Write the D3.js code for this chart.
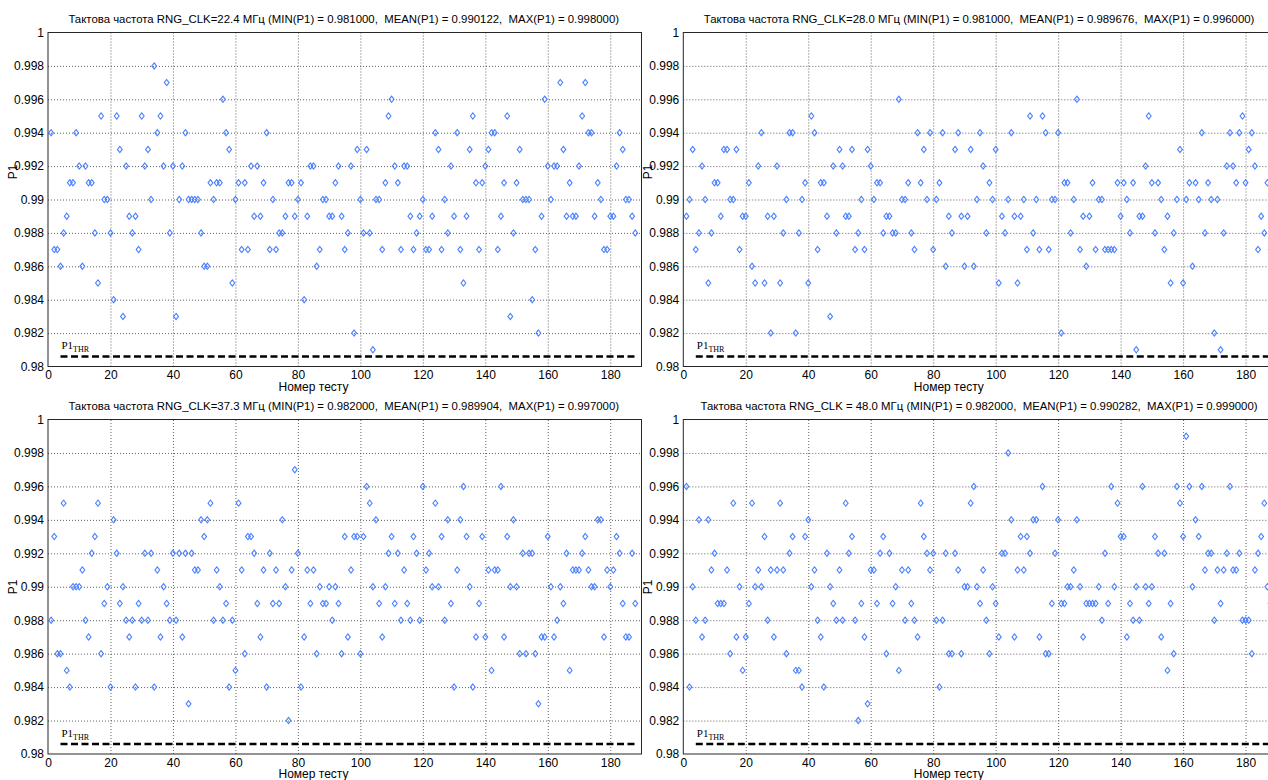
<!DOCTYPE html>
<html>
<head>
<meta charset="utf-8">
<script src="https://cdn.jsdelivr.net/npm/d3@7"></script>
<style>
  html, body { margin: 0; padding: 0; background: #fff; }
  svg { display: block; }
  text { font-family: "Liberation Sans", Arial, sans-serif; fill: #000; }
</style>
</head>
<body>
<svg id="chart" width="1268" height="780"></svg>
<script>
// ---------------- data ----------------
const tests = d3.range(1, 189); // test numbers 1..188

const p1_clk22_4 = [
0.994,0.987,0.987,0.986,0.988,0.989,0.991,0.991,0.994,0.992,
0.986,0.992,0.991,0.991,0.988,0.985,0.995,0.990,0.990,0.988,
0.984,0.995,0.993,0.983,0.992,0.989,0.988,0.989,0.987,0.995,
0.992,0.993,0.990,0.998,0.994,0.995,0.992,0.997,0.988,0.992,
0.983,0.990,0.992,0.994,0.990,0.990,0.990,0.990,0.988,0.986,
0.986,0.991,0.990,0.991,0.991,0.996,0.994,0.993,0.985,0.990,
0.991,0.987,0.991,0.987,0.992,0.989,0.992,0.989,0.991,0.994,
0.987,0.990,0.987,0.988,0.988,0.989,0.991,0.991,0.989,0.990,
0.991,0.984,0.989,0.992,0.992,0.986,0.987,0.990,0.990,0.989,
0.989,0.991,0.992,0.989,0.987,0.988,0.992,0.982,0.993,0.990,
0.988,0.993,0.988,0.981,0.990,0.990,0.987,0.991,0.995,0.996,
0.992,0.991,0.987,0.992,0.992,0.989,0.987,0.988,0.989,0.990,
0.987,0.987,0.989,0.994,0.993,0.987,0.990,0.988,0.992,0.989,
0.994,0.987,0.985,0.989,0.993,0.995,0.991,0.987,0.991,0.992,
0.993,0.994,0.994,0.987,0.989,0.991,0.995,0.983,0.988,0.991,
0.993,0.990,0.990,0.990,0.984,0.987,0.982,0.989,0.996,0.992,
0.990,0.992,0.992,0.997,0.993,0.989,0.991,0.989,0.989,0.992,
0.995,0.997,0.994,0.994,0.989,0.991,0.990,0.987,0.987,0.989,
0.989,0.992,0.994,0.993,0.990,0.990,0.989,0.988];

const p1_clk28_0 = [
0.989,0.990,0.993,0.987,0.988,0.992,0.990,0.985,0.988,0.991,
0.991,0.989,0.993,0.993,0.990,0.990,0.993,0.987,0.989,0.989,
0.991,0.986,0.985,0.992,0.994,0.985,0.989,0.982,0.989,0.992,
0.985,0.988,0.990,0.994,0.994,0.982,0.988,0.990,0.991,0.985,
0.995,0.994,0.987,0.991,0.991,0.989,0.983,0.992,0.988,0.993,
0.992,0.989,0.989,0.993,0.987,0.988,0.990,0.987,0.993,0.992,
0.990,0.991,0.991,0.988,0.989,0.989,0.988,0.988,0.996,0.990,
0.990,0.991,0.988,0.987,0.994,0.991,0.993,0.990,0.994,0.987,
0.990,0.991,0.994,0.986,0.989,0.988,0.993,0.994,0.989,0.986,
0.989,0.993,0.986,0.990,0.994,0.992,0.988,0.991,0.990,0.993,
0.985,0.989,0.988,0.990,0.994,0.989,0.985,0.989,0.990,0.987,
0.995,0.988,0.990,0.987,0.995,0.994,0.987,0.990,0.990,0.994,
0.982,0.991,0.991,0.988,0.990,0.996,0.987,0.989,0.986,0.989,
0.991,0.987,0.990,0.990,0.987,0.987,0.987,0.987,0.991,0.989,
0.991,0.990,0.988,0.991,0.981,0.989,0.989,0.992,0.995,0.991,
0.988,0.991,0.990,0.987,0.989,0.985,0.988,0.990,0.993,0.985,
0.990,0.991,0.986,0.991,0.990,0.994,0.988,0.991,0.990,0.982,
0.990,0.981,0.988,0.992,0.994,0.992,0.991,0.994,0.995,0.991,
0.993,0.994,0.992,0.987,0.989,0.988,0.991,0.987];

const p1_clk37_3 = [
0.988,0.993,0.986,0.986,0.995,0.985,0.984,0.990,0.990,0.990,
0.991,0.988,0.987,0.992,0.993,0.995,0.986,0.989,0.990,0.984,
0.994,0.992,0.989,0.990,0.988,0.987,0.988,0.984,0.989,0.988,
0.992,0.988,0.992,0.984,0.991,0.987,0.990,0.989,0.988,0.992,
0.988,0.992,0.987,0.992,0.983,0.992,0.991,0.991,0.994,0.993,
0.994,0.995,0.988,0.991,0.990,0.988,0.989,0.984,0.988,0.985,
0.995,0.991,0.986,0.993,0.993,0.992,0.989,0.987,0.991,0.984,
0.992,0.989,0.991,0.989,0.994,0.990,0.982,0.991,0.997,0.992,
0.984,0.987,0.991,0.989,0.991,0.986,0.990,0.989,0.989,0.990,
0.988,0.990,0.989,0.986,0.993,0.987,0.991,0.993,0.993,0.986,
0.993,0.996,0.995,0.990,0.994,0.989,0.987,0.990,0.992,0.993,
0.989,0.992,0.988,0.991,0.989,0.988,0.993,0.992,0.988,0.996,
0.991,0.992,0.990,0.995,0.990,0.993,0.988,0.994,0.989,0.984,
0.991,0.994,0.996,0.993,0.990,0.984,0.987,0.989,0.993,0.987,
0.991,0.985,0.991,0.991,0.996,0.987,0.993,0.990,0.994,0.990,
0.986,0.992,0.986,0.992,0.992,0.986,0.983,0.987,0.987,0.993,
0.990,0.987,0.988,0.990,0.989,0.992,0.985,0.991,0.991,0.991,
0.992,0.993,0.991,0.990,0.990,0.994,0.994,0.987,0.991,0.990,
0.991,0.993,0.992,0.989,0.987,0.987,0.992,0.989];

const p1_clk48_0 = [
0.996,0.984,0.990,0.988,0.994,0.987,0.988,0.994,0.991,0.992,
0.989,0.989,0.989,0.991,0.986,0.995,0.987,0.990,0.985,0.987,
0.989,0.995,0.990,0.991,0.990,0.993,0.988,0.991,0.987,0.991,
0.995,0.991,0.986,0.992,0.993,0.985,0.985,0.984,0.993,0.994,
0.990,0.991,0.988,0.987,0.984,0.992,0.990,0.989,0.988,0.991,
0.988,0.995,0.992,0.993,0.988,0.982,0.989,0.987,0.983,0.991,
0.991,0.989,0.992,0.993,0.986,0.992,0.989,0.990,0.985,0.991,
0.988,0.991,0.989,0.988,0.987,0.995,0.993,0.992,0.991,0.992,
0.988,0.984,0.988,0.992,0.986,0.986,0.992,0.991,0.986,0.990,
0.990,0.995,0.996,0.990,0.989,0.991,0.988,0.986,0.990,0.989,
0.987,0.992,0.992,0.998,0.994,0.987,0.991,0.993,0.991,0.993,
0.992,0.994,0.994,0.987,0.996,0.986,0.986,0.989,0.992,0.994,
0.989,0.989,0.990,0.990,0.991,0.994,0.990,0.987,0.989,0.989,
0.989,0.989,0.990,0.988,0.992,0.989,0.996,0.990,0.995,0.993,
0.993,0.987,0.989,0.988,0.990,0.988,0.996,0.990,0.989,0.990,
0.993,0.992,0.987,0.992,0.985,0.989,0.986,0.996,0.995,0.993,
0.999,0.996,0.990,0.994,0.993,0.996,0.991,0.992,0.992,0.988,
0.991,0.989,0.991,0.992,0.996,0.991,0.991,0.992,0.988,0.988,
0.988,0.986,0.991,0.992,0.993,0.995,0.990,0.989];

const titles = [
  "Тактова частота RNG_CLK=22.4 МГц (MIN(P1) = 0.981000,  MEAN(P1) = 0.990122,  MAX(P1) = 0.998000)",
  "Тактова частота RNG_CLK=28.0 МГц (MIN(P1) = 0.981000,  MEAN(P1) = 0.989676,  MAX(P1) = 0.996000)",
  "Тактова частота RNG_CLK=37.3 МГц (MIN(P1) = 0.982000,  MEAN(P1) = 0.989904,  MAX(P1) = 0.997000)",
  "Тактова частота RNG_CLK = 48.0 МГц (MIN(P1) = 0.982000,  MEAN(P1) = 0.990282,  MAX(P1) = 0.999000)"
];
const series = [p1_clk22_4, p1_clk28_0, p1_clk37_3, p1_clk48_0];

const xTicks = [0, 20, 40, 60, 80, 100, 120, 140, 160, 180];
const yTicks = [0.98, 0.982, 0.984, 0.986, 0.988, 0.99, 0.992, 0.994, 0.996, 0.998, 1];
const yTickLabels = ["0.98", "0.982", "0.984", "0.986", "0.988", "0.99", "0.992", "0.994", "0.996", "0.998", "1"];
const xDomain = [0, 190];
const yDomain = [0.98, 1];
const threshold = [0.9806];
const thresholdSpan = [4, 188];
const xLabel = "Номер тесту";
const yLabel = "P1";

// ---------------- layout ----------------
const panels = [
  { x0: 48,    x1: 641.5,  y0: 32.5,  y1: 366.5, yLabelY: 172 },
  { x0: 683.3, x1: 1276.8, y0: 32.5,  y1: 366.5, yLabelY: 172 },
  { x0: 48,    x1: 641.5,  y0: 419.5, y1: 754,   yLabelY: 587 },
  { x0: 683.3, x1: 1276.8, y0: 419.5, y1: 754,   yLabelY: 587 }
];

const svg = d3.select("#chart");
svg.append("rect").attr("width", 1268).attr("height", 780).attr("fill", "#fff");

panels.forEach((p, i) => {
  const x = d3.scaleLinear().domain(xDomain).range([p.x0, p.x1]);
  const y = d3.scaleLinear().domain(yDomain).range([p.y1, p.y0]);
  const g = svg.append("g");
  const h = p.y1 - p.y0, w = p.x1 - p.x0;

  const clipId = "clip" + i;
  svg.append("clipPath").attr("id", clipId)
    .append("rect").attr("x", p.x0).attr("y", p.y0).attr("width", w).attr("height", h);

  // grid (dotted)
  const gx = g.append("g").attr("transform", `translate(0,${p.y1})`)
    .call(d3.axisBottom(x).tickValues(xTicks.filter(v => v > 0)).tickSize(-h).tickFormat(""));
  gx.select(".domain").remove();
  gx.selectAll("line").attr("stroke", "#3a3a3a").attr("stroke-width", 0.8).attr("stroke-dasharray", "1,2");
  const gy = g.append("g").attr("transform", `translate(${p.x0},0)`)
    .call(d3.axisLeft(y).tickValues(yTicks.filter(v => v > 0.98 && v < 1)).tickSize(-w).tickFormat(""));
  gy.select(".domain").remove();
  gy.selectAll("line").attr("stroke", "#3a3a3a").attr("stroke-width", 0.8).attr("stroke-dasharray", "1,2");

  // tick labels
  const ax = g.append("g").attr("transform", `translate(0,${p.y1})`)
    .call(d3.axisBottom(x).tickValues(xTicks).tickSize(0).tickPadding(4).tickFormat(d3.format("d")));
  ax.select(".domain").remove();
  ax.selectAll("text").style("font-size", "12px").attr("fill", "#000");
  const ay = g.append("g").attr("transform", `translate(${p.x0},0)`)
    .call(d3.axisLeft(y).tickValues(yTicks).tickSize(0).tickPadding(4)
      .tickFormat((d, k) => yTickLabels[k]));
  ay.select(".domain").remove();
  ay.selectAll("text").style("font-size", "12px").attr("fill", "#000");

  // box
  g.append("rect").attr("x", p.x0).attr("y", p.y0).attr("width", w).attr("height", h)
    .attr("fill", "none").attr("stroke", "#262626").attr("stroke-width", 1);

  const plot = g.append("g").attr("clip-path", `url(#${clipId})`);

  // threshold line
  plot.append("line")
    .attr("x1", x(thresholdSpan[0])).attr("x2", x(thresholdSpan[1]))
    .attr("y1", y(threshold[0])).attr("y2", y(threshold[0]))
    .attr("stroke", "#000").attr("stroke-width", 2.4).attr("stroke-dasharray", "7,3.5");

  // threshold label
  const tl = g.append("text")
    .attr("x", x(thresholdSpan[0]) + 1).attr("y", y(threshold[0]) - 7)
    .style("font-family", "'Liberation Serif', 'Times New Roman', serif").style("font-size", "11px");
  tl.append("tspan").text("P1");
  tl.append("tspan").attr("dy", 3).style("font-size", "8px").text("THR");

  // points
  plot.selectAll("path.pt").data(series[i]).enter().append("path")
    .attr("class", "pt")
    .attr("transform", (d, k) => `translate(${x(tests[k])},${y(d)})`)
    .attr("d", "M0,-3.1L2.4,0L0,3.1L-2.4,0Z")
    .attr("fill", "none").attr("stroke", "#4a80ff").attr("stroke-width", 1.1);

  // title
  g.append("text").attr("x", (p.x0 + p.x1) / 2 - 1).attr("y", p.y0 - 10)
    .attr("text-anchor", "middle").attr("xml:space", "preserve")
    .style("white-space", "pre").style("font-size", "11.4px").text(titles[i]);

  // axis labels
  g.append("text").attr("x", x(85)).attr("y", p.y1 + 24)
    .attr("text-anchor", "middle").style("font-size", "12px").text(xLabel);
  g.append("text").attr("transform", `translate(${p.x0 - 31},${p.yLabelY}) rotate(-90)`)
    .attr("text-anchor", "middle").style("font-size", "12px").text(yLabel);
});
</script>
</body>
</html>
